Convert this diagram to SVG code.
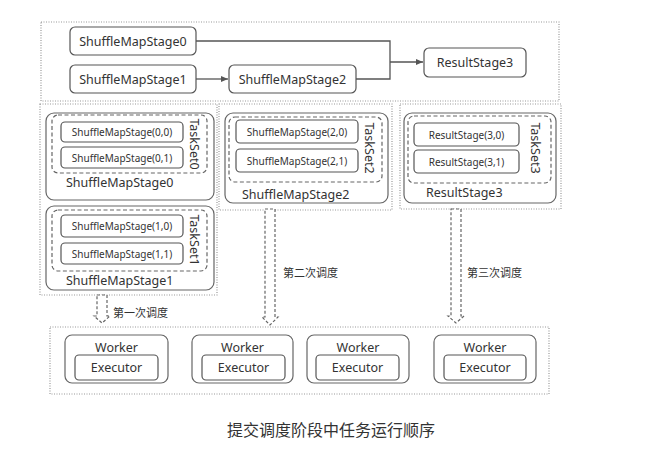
<svg xmlns="http://www.w3.org/2000/svg" width="651" height="454" viewBox="0 0 651 454">
<defs>
<style>
text{font-family:"Noto Sans","Open Sans","Liberation Sans","Noto Sans CJK SC",sans-serif;fill:#333}
.cjk{font-family:"Noto Sans CJK SC","Noto Sans",sans-serif}
.panel{fill:none;stroke:#999;stroke-width:1.2;stroke-dasharray:1,1.5}
.box{fill:#fff;stroke:#555;stroke-width:1.2}
.stage{fill:none;stroke:#666;stroke-width:1.2}
.ts{fill:none;stroke:#666;stroke-width:1.2;stroke-dasharray:4,2.5}
.t13{font-size:12.5px}
.t10{font-size:10px}
.t12{font-size:12.5px}
.c{text-anchor:middle;dominant-baseline:central}
.conn{fill:none;stroke:#555;stroke-width:1.3}
.harrow{fill:#fff;stroke:#666;stroke-width:1.2;stroke-dasharray:3,2}
</style>
<marker id="ah" markerWidth="8" markerHeight="8" refX="7" refY="4" orient="auto" markerUnits="userSpaceOnUse">
<path d="M0,1 L7,4 L0,7 Z" fill="#555"/>
</marker>
</defs>
<rect width="651" height="454" fill="#fff"/>

<!-- panels -->
<rect class="panel" x="41" y="22" width="518" height="79"/>
<rect class="panel" x="40" y="104" width="177" height="191"/>
<rect class="panel" x="219" y="104" width="173" height="106"/>
<rect class="panel" x="400" y="104" width="161" height="105"/>
<rect class="panel" x="50" y="327" width="499" height="67"/>

<g id="connectors">
<path class="conn" d="M196,41 H390 V79 H356"/>
<path class="conn" d="M390,62 H423" marker-end="url(#ah)"/>
<path class="conn" d="M196,79 H228" marker-end="url(#ah)"/>
<path class="harrow" d="M97,295 H107 V316 H110 L102,323 L94,316 H97 Z"/>
<path class="harrow" d="M265,209 H275 V317 H278 L270,325 L262,317 H265 Z"/>
<path class="harrow" d="M451,209 H461 V316 H464 L456,323 L448,316 H451 Z"/>
<text class="cjk" x="113" y="312" font-size="11" dominant-baseline="central">第一次调度</text>
<text class="cjk" x="283" y="272" font-size="11" dominant-baseline="central">第二次调度</text>
<text class="cjk" x="467" y="272" font-size="11" dominant-baseline="central">第三次调度</text>
</g>

<g id="ShuffleMapStage0_top"><rect class="box" x="70" y="27" width="126" height="28" rx="5"/><text class="t13 c" x="133" y="41">ShuffleMapStage0</text></g>
<g id="ShuffleMapStage1_top"><rect class="box" x="70" y="65" width="126" height="28" rx="5"/><text class="t13 c" x="133" y="79">ShuffleMapStage1</text></g>
<g id="ShuffleMapStage2_top"><rect class="box" x="229" y="65" width="127" height="28" rx="5"/><text class="t13 c" x="292.5" y="79">ShuffleMapStage2</text></g>
<g id="ResultStage3_top"><rect class="box" x="424" y="48" width="102" height="29" rx="5"/><text class="t13 c" x="475" y="62.5">ResultStage3</text></g>

<g id="stage0">
<rect class="stage" x="46" y="113" width="168" height="87" rx="8"/>
<rect class="ts" x="52" y="115" width="155" height="58" rx="6"/>
<rect class="box" x="61" y="122" width="122" height="20" rx="4"/><text class="t10 c" x="122" y="132">ShuffleMapStage(0,0)</text>
<rect class="box" x="61" y="147" width="122" height="21" rx="4"/><text class="t10 c" x="122" y="157.5">ShuffleMapStage(0,1)</text>
<text class="t12 c" transform="translate(194,144) rotate(90)">TaskSet0</text>
<text class="t12" x="66" y="182" dominant-baseline="central">ShuffleMapStage0</text>
</g>

<g id="stage1">
<rect class="stage" x="46" y="206" width="168" height="84" rx="8"/>
<rect class="ts" x="52" y="210" width="155" height="61" rx="6"/>
<rect class="box" x="61" y="215" width="122" height="22" rx="4"/><text class="t10 c" x="122" y="226">ShuffleMapStage(1,0)</text>
<rect class="box" x="61" y="243" width="122" height="21" rx="4"/><text class="t10 c" x="122" y="253.5">ShuffleMapStage(1,1)</text>
<text class="t12 c" transform="translate(194,240) rotate(90)">TaskSet1</text>
<text class="t12" x="66" y="280" dominant-baseline="central">ShuffleMapStage1</text>
</g>

<g id="stage2">
<rect class="stage" x="225" y="113" width="163" height="90" rx="8"/>
<rect class="ts" x="229" y="117" width="153" height="65" rx="6"/>
<rect class="box" x="236" y="120" width="122" height="23" rx="4"/><text class="t10 c" x="297" y="131.5">ShuffleMapStage(2,0)</text>
<rect class="box" x="236" y="149" width="122" height="23" rx="4"/><text class="t10 c" x="297" y="160.5">ShuffleMapStage(2,1)</text>
<text class="t12 c" transform="translate(369,148) rotate(90)">TaskSet2</text>
<text class="t12" x="242" y="194" dominant-baseline="central">ShuffleMapStage2</text>
</g>

<g id="stage3">
<rect class="stage" x="404" y="113" width="152" height="90" rx="8"/>
<rect class="ts" x="408" y="116" width="143" height="67" rx="6"/>
<rect class="box" x="414" y="123" width="105" height="23" rx="4"/><text class="t10 c" x="466.5" y="134.5">ResultStage(3,0)</text>
<rect class="box" x="414" y="150" width="105" height="23" rx="4"/><text class="t10 c" x="466.5" y="161.5">ResultStage(3,1)</text>
<text class="t12 c" transform="translate(535,148) rotate(90)">TaskSet3</text>
<text class="t12" x="426" y="192" dominant-baseline="central">ResultStage3</text>
</g>

<g id="worker1"><rect class="stage" x="65" y="335" width="103" height="48" rx="7"/><text class="t12 c" x="116.5" y="347">Worker</text><rect class="box" x="75" y="355" width="83" height="25" rx="4"/><text class="t12 c" x="116.5" y="367.5">Executor</text></g>
<g id="worker2"><rect class="stage" x="192" y="335" width="101" height="48" rx="7"/><text class="t12 c" x="242.5" y="347">Worker</text><rect class="box" x="202" y="355" width="83" height="25" rx="4"/><text class="t12 c" x="243.5" y="367.5">Executor</text></g>
<g id="worker3"><rect class="stage" x="307" y="335" width="102" height="48" rx="7"/><text class="t12 c" x="358" y="347">Worker</text><rect class="box" x="316" y="355" width="83" height="25" rx="4"/><text class="t12 c" x="357.5" y="367.5">Executor</text></g>
<g id="worker4"><rect class="stage" x="434" y="335" width="102" height="48" rx="7"/><text class="t12 c" x="485" y="347">Worker</text><rect class="box" x="444" y="355" width="82" height="25" rx="4"/><text class="t12 c" x="485" y="367.5">Executor</text></g>

<text class="cjk" x="331" y="429" font-size="16" text-anchor="middle" dominant-baseline="central">提交调度阶段中任务运行顺序</text>
</svg>
